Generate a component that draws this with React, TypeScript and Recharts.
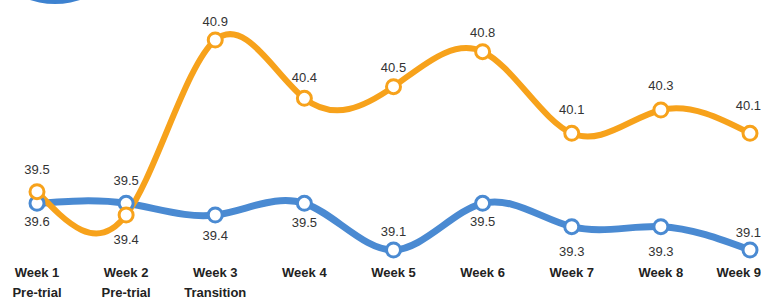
import { LineChart, Line, XAxis, YAxis, LabelList } from 'recharts';

// weekly readings
const weeks = ['Week 1', 'Week 2', 'Week 3', 'Week 4', 'Week 5', 'Week 6', 'Week 7', 'Week 8', 'Week 9'];
const phases = ['Pre-trial', 'Pre-trial', 'Transition', '', '', '', '', '', ''];
const orangeValues = [39.6, 39.4, 40.9, 40.4, 40.5, 40.8, 40.1, 40.3, 40.1];
const blueValues = [39.5, 39.5, 39.4, 39.5, 39.1, 39.5, 39.3, 39.3, 39.1];

// vertical offset of each value label from its point (negative = above)
const orangeLabelDy = [30, 24, -19, -21, -19, -19, -24, -25, -28];
const blueLabelDy = [-34, -23, 20, 19, -19, 18, 25, 25, -18];

const data = weeks.map((week, i) => ({
  week,
  phase: phases[i],
  orange: orangeValues[i],
  blue: blueValues[i],
}));

const ORANGE = '#F7A21B';
const BLUE = '#4A8AD2';
const FONT = "'Liberation Sans', Arial, sans-serif";
const LAST = weeks.length - 1;

function makeLabel(offsets: number[]) {
  return (props: any) => {
    const { x, y, value, index } = props;
    const last = index === LAST;
    return (
      <text
        x={last ? x + 11 : x}
        y={y + offsets[index] + 4.5}
        textAnchor={last ? 'end' : 'middle'}
        fontFamily={FONT}
        fontSize={13}
        fill="#333"
      >
        {Number(value).toFixed(1)}
      </text>
    );
  };
}

function WeekTick(props: any) {
  const { x, y, payload, index } = props;
  const i = payload?.index ?? index;
  const phase = phases[i];
  const last = i === LAST;
  const tx = last ? x + 11 : x;
  const anchor = last ? 'end' : 'middle';
  return (
    <g>
      <text x={tx} y={y + 27} textAnchor={anchor} fontFamily={FONT} fontWeight="bold" fontSize={13} fill="#222">
        {payload.value}
      </text>
      {phase && (
        <text x={tx} y={y + 47} textAnchor={anchor} fontFamily={FONT} fontWeight="bold" fontSize={13} fill="#222">
          {phase}
        </text>
      )}
    </g>
  );
}

export default function App() {
  return (
    <div style={{ position: 'absolute', left: 0, top: 0, width: 761, height: 302, overflow: 'hidden', background: '#fff' }}>
      {/* cut-off badge at the top left */}
      <div
        style={{
          position: 'absolute',
          left: -25,
          top: -156,
          width: 160,
          height: 160,
          borderRadius: '50%',
          background: '#3D82D0',
        }}
      />
      <LineChart width={761} height={302} data={data} margin={{ top: 40, right: 11, bottom: 0, left: 37 }}>
        <XAxis
          dataKey="week"
          axisLine={false}
          tickLine={false}
          tickSize={0}
          tickMargin={0}
          height={52}
          padding={{ left: 0, right: 0 }}
          interval={0}
          tick={<WeekTick />}
        />
        <YAxis hide domain={[39.1, 40.9]} />
        <Line
          type="natural"
          dataKey="blue"
          stroke={BLUE}
          strokeWidth={7}
          dot={{ r: 7, fill: '#fff', stroke: BLUE, strokeWidth: 3 }}
          isAnimationActive={false}
        >
          <LabelList dataKey="blue" content={makeLabel(blueLabelDy)} />
        </Line>
        <Line
          type="natural"
          dataKey="orange"
          stroke={ORANGE}
          strokeWidth={6}
          dot={{ r: 7, fill: '#fff', stroke: ORANGE, strokeWidth: 3 }}
          isAnimationActive={false}
        >
          <LabelList dataKey="orange" content={makeLabel(orangeLabelDy)} />
        </Line>
      </LineChart>
    </div>
  );
}
